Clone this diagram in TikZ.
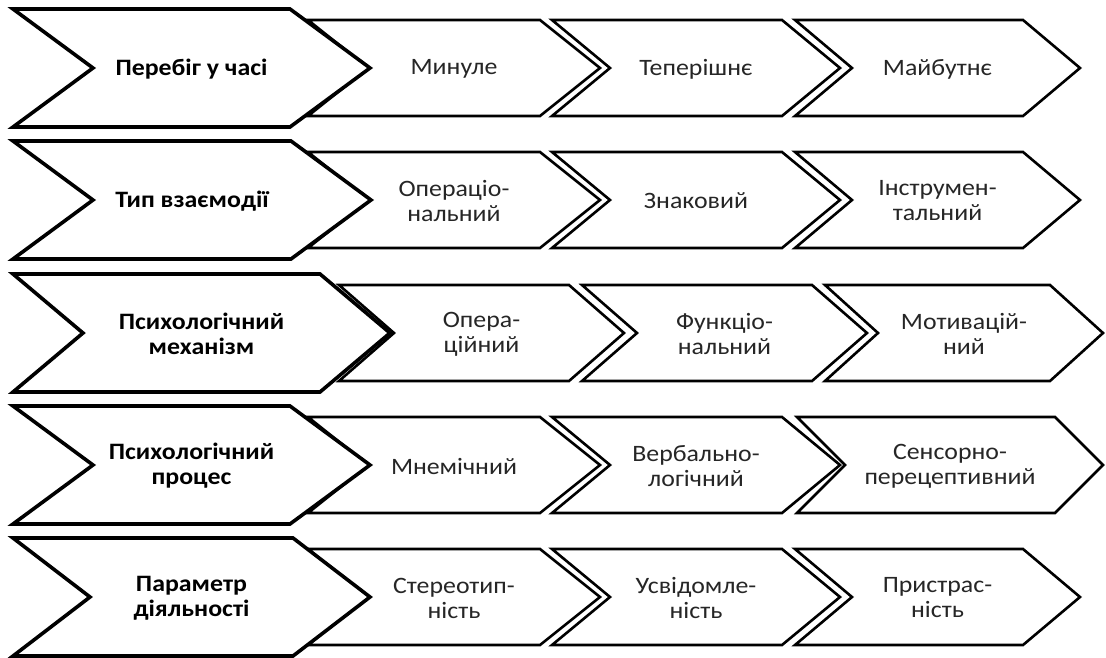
\documentclass[tikz,border=0pt]{standalone}
\usepackage{fontspec}
\setmainfont[FakeStretch=1.1]{Carlito}

\tikzset{
  headbox/.style={draw=black, line width=3.6pt, line join=miter, fill=white},
  itembox/.style={draw=black, line width=2.6pt, line join=miter, fill=white},
  headtext/.style={font=\bfseries\fontsize{23.5}{25}\selectfont, align=center, text=black},
  itemtext/.style={font=\fontsize{23.5}{25}\selectfont, align=center, text=black!85},
}

% #1 head/item, #2 name, #3 left, #4 corner, #5 tip, #6 y, #7 half height, #8 text
\newcommand{\chev}[8]{%
  \draw[#1box] (#3,#6-#7) -- (#4,#6-#7) -- (#5,#6) -- (#4,#6+#7) -- (#3,#6+#7) -- ({#3+#5-#4},#6) -- cycle;
  \node[#1text] (#2) at ({(#3+#5)/2},#6+1) {#8};
}

\begin{document}
\begin{tikzpicture}[x=1pt, y=-1pt]
    \useasboundingbox (0,0) rectangle (1106,657);

    % Перебіг у часі
    \chev{item}{past}{308}{540}{600}{68}{48}{Минуле}
    \chev{item}{now}{552}{782}{840}{68}{48}{Теперішнє}
    \chev{item}{future}{795}{1023}{1080}{68}{48}{Майбутнє}
    \chev{head}{time}{13}{290}{370}{68}{59}{Перебіг у часі}

    % Тип взаємодії
    \chev{item}{oper}{308}{540}{600}{200}{48}{Операціо-\\нальний}
    \chev{item}{sign}{552}{782}{840}{200}{48}{Знаковий}
    \chev{item}{instr}{795}{1023}{1080}{200}{48}{Інструмен-\\тальний}
    \chev{head}{inter}{13}{291}{371}{200}{59}{Тип взаємодії}

    % Психологічний механізм
    \chev{item}{opmech}{339}{569}{624}{333}{48}{Опера-\\ційний}
    \chev{item}{func}{582}{812}{867}{333}{48}{Функціо-\\нальний}
    \chev{item}{motiv}{825}{1050}{1103}{333}{48}{Мотивацій-\\ний}
    \chev{head}{mech}{13}{320}{390}{333}{59}{Психологічний\\механізм}

    % Психологічний процес
    \chev{item}{mnem}{308}{540}{600}{465}{48}{Мнемічний}
    \chev{item}{verb}{552}{782}{840}{465}{48}{Вербально-\\логічний}
    \chev{item}{sens}{797}{1055}{1103}{465}{48}{Сенсорно-\\перецептивний}
    \chev{head}{proc}{13}{290}{370}{465}{59}{Психологічний\\процес}

    % Параметр діяльності
    \chev{item}{stereo}{308}{540}{600}{597}{48}{Стереотип-\\ність}
    \chev{item}{aware}{552}{782}{840}{597}{48}{Усвідомле-\\ність}
    \chev{item}{pass}{795}{1023}{1080}{597}{48}{Пристрас-\\ність}
    \chev{head}{param}{13}{293}{370}{597}{59}{Параметр\\діяльності}
\end{tikzpicture}
\end{document}
